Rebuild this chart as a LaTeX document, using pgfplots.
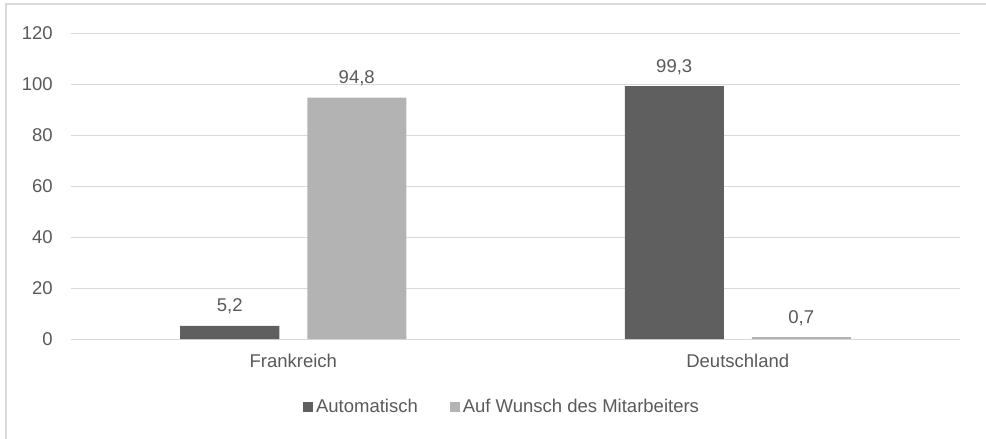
\documentclass[border=0pt]{standalone}
\usepackage{pgfplots}
\pgfplotsset{compat=1.18}
\usepackage{fontspec}
\setmainfont{Liberation Sans}
\definecolor{darkbar}{HTML}{5F5F5F}
\definecolor{lightbar}{HTML}{B3B3B3}
\definecolor{txt}{HTML}{595959}
\definecolor{gridc}{HTML}{D9D9D9}
\begin{document}
\fontsize{13.875}{16}\selectfont
\begin{tikzpicture}
\useasboundingbox (0pt,0pt) rectangle (739.5pt,-329.25pt);
\draw[gridc, line width=1.2pt] (4.5pt,-345pt) -- (4.5pt,-3pt) -- (750pt,-3pt);
\begin{axis}[
  at={(53.25pt,-254.25pt)}, anchor=south west,
  scale only axis, width=666.75pt, height=229.125pt,
  ybar=21pt, bar width=74.25pt,
  xmin=-0.5, xmax=1.5, ymin=0, ymax=120,
  ytick={0,20,...,120},
  xtick={0,1}, xticklabels={Frankreich,Deutschland},
  axis line style={draw=none},
  major tick length=0pt,
  ymajorgrids, grid style={gridc, line width=0.75pt},
  /pgf/number format/assume math mode=true,
  yticklabel style={text=txt, anchor=east, inner sep=0pt, xshift=-13.5pt},
  xticklabel style={text=txt, anchor=north, inner sep=0pt, yshift=-11.25pt},
  nodes near coords,
  nodes near coords style={text=txt, anchor=base, inner sep=0pt, yshift=10.5pt,
    /pgf/number format/.cd, use comma, fixed, fixed zerofill, precision=1, assume math mode=true},
  legend columns=2,
  legend style={at={(0.4837,-0.2226)}, anchor=center, draw=none, fill=none,
    text=txt, nodes={inner sep=0pt},
    /tikz/every odd column/.append style={column sep=2.25pt},
    /tikz/every even column/.append style={column sep=24pt}},
  legend image code/.code={\fill[#1] (0pt,-3.75pt) rectangle (7.5pt,3.75pt);},
]
\addplot[fill=darkbar, draw=none] coordinates {(0,5.2) (1,99.3)};
\addplot[fill=lightbar, draw=none] coordinates {(0,94.8) (1,0.7)};
\legend{Automatisch, Auf Wunsch des Mitarbeiters}
\end{axis}
\end{tikzpicture}
\end{document}
